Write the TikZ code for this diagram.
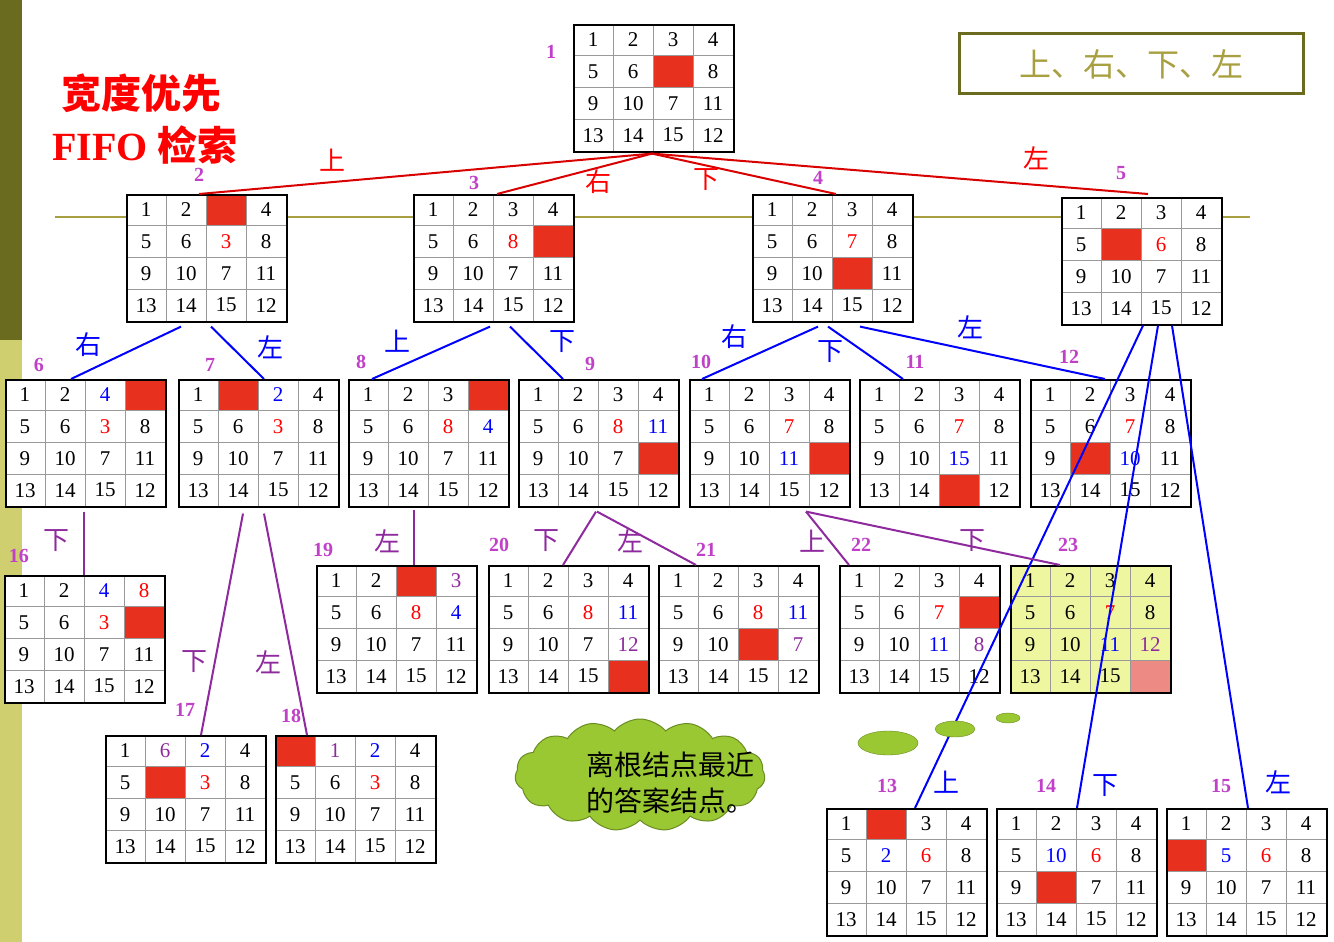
\documentclass[tikz,border=0pt]{standalone}
\usepackage{fontspec}
\setmainfont{Liberation Serif}
\newfontfamily\cjk{Noto Sans CJK SC}
\usetikzlibrary{calc,shapes.symbols}
\definecolor{cellred}{HTML}{E8301F}
\definecolor{cellpink}{HTML}{EE8A84}
\definecolor{pur}{HTML}{8E2A9E}
\definecolor{lab}{HTML}{C040C8}
\definecolor{olive}{HTML}{6B6B1F}
\definecolor{olivel}{HTML}{CFCF70}
\definecolor{oliveline}{HTML}{A8A040}
\definecolor{yg}{HTML}{EEF7A0}
\definecolor{cloudg}{HTML}{99C832}
\newcommand\rr[1]{\textcolor{red}{#1}}
\newcommand\bb[1]{\textcolor{blue}{#1}}
\newcommand\pq[1]{\textcolor{pur}{#1}}
\newcommand\grid[4]{%
 \foreach \f/\t [count=\i from 0] in {#4}{%
  \pgfmathtruncatemacro\gc{mod(\i,4)}%
  \pgfmathtruncatemacro\gr{\i/4}%
  \node[cell,fill=\f] at (#2+\gc*40+20,#3+\gr*31.75+15.9) {\t};
 }%
 \node[draw,line width=1.6pt,minimum width=160pt,minimum height=127pt,anchor=north west,inner sep=0pt] (#1) at (#2,#3) {};
}
\begin{document}
\begin{tikzpicture}[x=1pt,y=-1pt,
 cell/.style={draw=gray!80,line width=0.6pt,minimum width=40pt,minimum height=31.75pt,inner sep=0pt,font=\fontsize{21}{24}\selectfont},
 lbl/.style={text=lab,font=\bfseries\fontsize{20}{22}\selectfont},
 redl/.style={draw=red!85!black,line width=2pt},
 bluel/.style={draw=blue,line width=2pt},
 purl/.style={draw=pur,line width=2pt},
 ctext/.style={font=\cjk\fontsize{26}{28}\selectfont}]
\useasboundingbox (0,0) rectangle (1334,942);
\fill[white] (0,0) rectangle (1334,942);
\fill[olive] (0,0) rectangle (22,340);
\fill[olivel] (0,340) rectangle (22,942);
\draw[oliveline,line width=2pt] (55,217) -- (1250,217);
% title
\node[text=red,font=\cjk\bfseries\fontsize{40}{44}\selectfont] (t1) at (141,93) {宽度优先};
\node[text=red,font=\bfseries\fontsize{40}{44}\selectfont] (t2) at (145,145) {FIFO {\cjk 检索}};
\node[draw=olive,line width=3pt,minimum width=344pt,minimum height=60pt,text=oliveline,font=\cjk\fontsize{32}{36}\selectfont] (ord) at (1131,64) {上、右、下、左};
% grids
\grid{g1}{573}{24}{white/1,white/2,white/3,white/4,white/5,white/6,cellred/,white/8,white/9,white/10,white/7,white/11,white/13,white/14,white/15,white/12}
\grid{g2}{126}{194}{white/1,white/2,cellred/,white/4,white/5,white/6,white/\rr{3},white/8,white/9,white/10,white/7,white/11,white/13,white/14,white/15,white/12}
\grid{g3}{413}{194}{white/1,white/2,white/3,white/4,white/5,white/6,white/\rr{8},cellred/,white/9,white/10,white/7,white/11,white/13,white/14,white/15,white/12}
\grid{g4}{752}{194}{white/1,white/2,white/3,white/4,white/5,white/6,white/\rr{7},white/8,white/9,white/10,cellred/,white/11,white/13,white/14,white/15,white/12}
\grid{g5}{1061}{197}{white/1,white/2,white/3,white/4,white/5,cellred/,white/\rr{6},white/8,white/9,white/10,white/7,white/11,white/13,white/14,white/15,white/12}
\grid{g6}{5}{379}{white/1,white/2,white/\bb{4},cellred/,white/5,white/6,white/\rr{3},white/8,white/9,white/10,white/7,white/11,white/13,white/14,white/15,white/12}
\grid{g7}{178}{379}{white/1,cellred/,white/\bb{2},white/4,white/5,white/6,white/\rr{3},white/8,white/9,white/10,white/7,white/11,white/13,white/14,white/15,white/12}
\grid{g8}{348}{379}{white/1,white/2,white/3,cellred/,white/5,white/6,white/\rr{8},white/\bb{4},white/9,white/10,white/7,white/11,white/13,white/14,white/15,white/12}
\grid{g9}{518}{379}{white/1,white/2,white/3,white/4,white/5,white/6,white/\rr{8},white/\bb{11},white/9,white/10,white/7,cellred/,white/13,white/14,white/15,white/12}
\grid{g10}{689}{379}{white/1,white/2,white/3,white/4,white/5,white/6,white/\rr{7},white/8,white/9,white/10,white/\bb{11},cellred/,white/13,white/14,white/15,white/12}
\grid{g11}{859}{379}{white/1,white/2,white/3,white/4,white/5,white/6,white/\rr{7},white/8,white/9,white/10,white/\bb{15},white/11,white/13,white/14,cellred/,white/12}
\grid{g12}{1030}{379}{white/1,white/2,white/3,white/4,white/5,white/6,white/\rr{7},white/8,white/9,cellred/,white/\bb{10},white/11,white/13,white/14,white/15,white/12}
\grid{g16}{4}{575}{white/1,white/2,white/\bb{4},white/\rr{8},white/5,white/6,white/\rr{3},cellred/,white/9,white/10,white/7,white/11,white/13,white/14,white/15,white/12}
\grid{g19}{316}{565}{white/1,white/2,cellred/,white/\pq{3},white/5,white/6,white/\rr{8},white/\bb{4},white/9,white/10,white/7,white/11,white/13,white/14,white/15,white/12}
\grid{g20}{488}{565}{white/1,white/2,white/3,white/4,white/5,white/6,white/\rr{8},white/\bb{11},white/9,white/10,white/7,white/\pq{12},white/13,white/14,white/15,cellred/}
\grid{g21}{658}{565}{white/1,white/2,white/3,white/4,white/5,white/6,white/\rr{8},white/\bb{11},white/9,white/10,cellred/,white/\pq{7},white/13,white/14,white/15,white/12}
\grid{g22}{839}{565}{white/1,white/2,white/3,white/4,white/5,white/6,white/\rr{7},cellred/,white/9,white/10,white/\bb{11},white/\pq{8},white/13,white/14,white/15,white/12}
\grid{g23}{1010}{565}{yg/1,yg/2,yg/3,yg/4,yg/5,yg/6,yg/\rr{7},yg/8,yg/9,yg/10,yg/\bb{11},yg/\pq{12},yg/13,yg/14,yg/15,cellpink/}
\grid{g17}{105}{735}{white/1,white/\pq{6},white/\bb{2},white/4,white/5,cellred/,white/\rr{3},white/8,white/9,white/10,white/7,white/11,white/13,white/14,white/15,white/12}
\grid{g18}{275}{735}{cellred/,white/\pq{1},white/\bb{2},white/4,white/5,white/6,white/\rr{3},white/8,white/9,white/10,white/7,white/11,white/13,white/14,white/15,white/12}
\grid{g13}{826}{808}{white/1,cellred/,white/3,white/4,white/5,white/\bb{2},white/\rr{6},white/8,white/9,white/10,white/7,white/11,white/13,white/14,white/15,white/12}
\grid{g14}{996}{808}{white/1,white/2,white/3,white/4,white/5,white/\bb{10},white/\rr{6},white/8,white/9,cellred/,white/7,white/11,white/13,white/14,white/15,white/12}
\grid{g15}{1166}{808}{white/1,white/2,white/3,white/4,cellred/,white/\bb{5},white/\rr{6},white/8,white/9,white/10,white/7,white/11,white/13,white/14,white/15,white/12}
% labels
\foreach \n/\x/\y in {1/551/52,2/199/175,3/474/183,4/818/178,5/1121/173,6/39/365,7/210/365,8/361/362,9/590/364,10/701/362,11/915/362,12/1069/357,16/19/556,19/323/550,20/499/545,21/706/550,22/861/545,23/1068/545,17/185/710,18/291/716,13/887/786,14/1046/786,15/1221/786}
  \node[lbl] (l\n) at (\x,\y) {\n};
% red edges
\draw[redl] ($(g1.south west)+(79,1)$) -- ($(g2.north west)+(73,0)$);
\draw[redl] ($(g1.south west)+(79,1)$) -- ($(g3.north west)+(84,0)$);
\draw[redl] ($(g1.south west)+(79,1)$) -- ($(g4.north west)+(84,0)$);
\draw[redl] ($(g1.south west)+(79,1)$) -- ($(g5.north west)+(87,-3)$);
\foreach \t/\x/\y in {上/332/160,右/598/182,下/706/180,左/1036/158}
  \node[ctext,text=red] at (\x,\y) {\t};
% blue edges
\draw[bluel] ($(g2.south west)+(55,4)$) -- ($(g6.north west)+(66,0)$);
\draw[bluel] ($(g2.south west)+(85,4)$) -- ($(g7.north west)+(86,0)$);
\draw[bluel] ($(g3.south west)+(77,4)$) -- ($(g8.north west)+(24,0)$);
\draw[bluel] ($(g3.south west)+(97,4)$) -- ($(g9.north west)+(45,0)$);
\draw[bluel] ($(g4.south west)+(66,4)$) -- ($(g10.north west)+(13,0)$);
\draw[bluel] ($(g4.south west)+(76,4)$) -- ($(g11.north west)+(44,0)$);
\draw[bluel] ($(g4.south west)+(108,4)$) -- ($(g12.north west)+(75,0)$);
\draw[bluel] ($(g5.south west)+(82,0)$) -- ($(g13.north west)+(89,0)$);
\draw[bluel] ($(g5.south west)+(97,0)$) -- ($(g14.north west)+(81,0)$);
\draw[bluel] ($(g5.south west)+(111,0)$) -- ($(g15.north west)+(82,0)$);
\foreach \t/\x/\y in {右/88/345,左/270/347,上/397/341,下/562/342,右/734/337,下/830/352,左/970/327,上/946/782,下/1105/786,左/1278/782}
  \node[ctext,text=blue] at (\x,\y) {\t};
% purple edges
\draw[purl] ($(g6.south west)+(79,4)$) -- ($(g16.north west)+(80,0)$);
\draw[purl] ($(g7.south west)+(65,6)$) -- ($(g17.north west)+(96,0)$);
\draw[purl] ($(g7.south west)+(86,6)$) -- ($(g18.north west)+(32,0)$);
\draw[purl] ($(g8.south west)+(66,2)$) -- ($(g19.north west)+(98,0)$);
\draw[purl] ($(g9.south west)+(78,4)$) -- ($(g20.north west)+(75,0)$);
\draw[purl] ($(g9.south west)+(79,4)$) -- ($(g21.north west)+(38,0)$);
\draw[purl] ($(g10.south west)+(117,4)$) -- ($(g22.north west)+(10,0)$);
\draw[purl] ($(g10.south west)+(117,4)$) -- ($(g23.north west)+(50,0)$);
\foreach \t/\x/\y in {下/56/541,下/194/662,左/268/662,左/387/541,下/546/541,左/630/541,上/812/541,下/972/541}
  \node[ctext,text=pur] at (\x,\y) {\t};
% cloud
\node[cloud,cloud puffs=15,cloud puff arc=100,aspect=2.4,fill=cloudg,draw=cloudg!70!black,line width=1pt,minimum width=250pt,minimum height=112pt] (cl) at (640,775) {};
\node[font=\cjk\fontsize{28}{36}\selectfont,align=left] (ct) at (670,783) {离根结点最近\\的答案结点。};
\draw[fill=cloudg,draw=cloudg!70!black] (888,743) ellipse [x radius=30,y radius=12];
\draw[fill=cloudg,draw=cloudg!70!black] (955,729) ellipse [x radius=20,y radius=8];
\draw[fill=cloudg,draw=cloudg!70!black] (1008,718) ellipse [x radius=12,y radius=5];
\end{tikzpicture}
\end{document}
